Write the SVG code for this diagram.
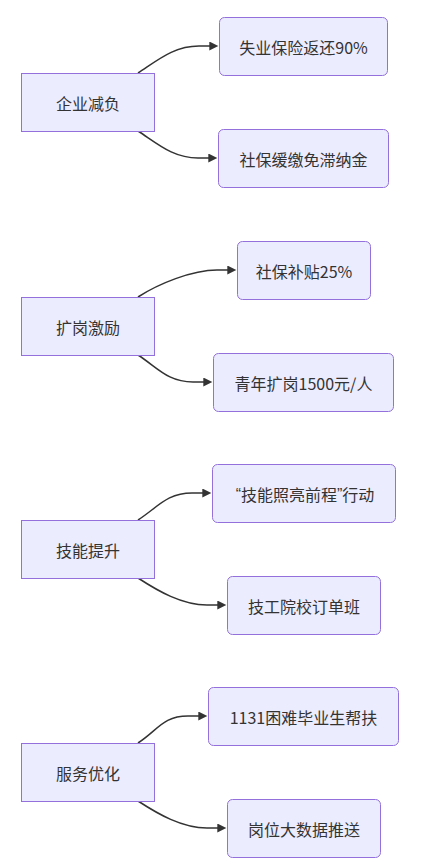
<svg xmlns="http://www.w3.org/2000/svg" width="422" height="864" viewBox="0 0 422 864">
<style>
.node rect{fill:#ECECFF;stroke:#9370DB;stroke-width:1px}
.node text{font-family:"Trebuchet MS","Noto Sans CJK SC",sans-serif;font-size:16px;fill:#333;text-anchor:middle;dominant-baseline:central}
.q{font-family:"Liberation Sans",sans-serif}
.edge{fill:none;stroke:#333;stroke-width:1.5px}
</style>
<defs>
<marker id="arrow" viewBox="0 0 10 10" refX="3" refY="5" markerUnits="userSpaceOnUse" markerWidth="10" markerHeight="9" orient="auto">
<path d="M0,0 L10,5 L0,10 z" fill="#333"/>
</marker>
</defs>
<rect width="422" height="864" fill="#fff"/>
<g id="connectors">
<path class="edge" marker-end="url(#arrow)" d="M138,73 C158,60 174,46 199,46 L212,46"/>
<path class="edge" marker-end="url(#arrow)" d="M138,131 C158,144 173,158 198,158 L211,158"/>
<path class="edge" marker-end="url(#arrow)" d="M138,297 C158,284 192,270 217,270 L230,270"/>
<path class="edge" marker-end="url(#arrow)" d="M138,355 C158,368 168,382 193,382 L206,382"/>
<path class="edge" marker-end="url(#arrow)" d="M138,520 C158,507 167,493 192,493 L205,493"/>
<path class="edge" marker-end="url(#arrow)" d="M138,578 C158,591 182,605 207,605 L220,605"/>
<path class="edge" marker-end="url(#arrow)" d="M138,743 C158,730 163,716 188,716 L201,716"/>
<path class="edge" marker-end="url(#arrow)" d="M138,801 C158,814 182,828 207,828 L220,828"/>
</g>
<g id="n1" class="node"><rect x="21.5" y="73.5" width="133" height="58"/><text x="88" y="102.5">企业减负</text></g>
<g id="n1a" class="node"><rect x="219.5" y="17.5" width="168" height="58" rx="5"/><text x="303.5" y="46.5">失业保险返还90%</text></g>
<g id="n1b" class="node"><rect x="218.5" y="129.5" width="170" height="58" rx="5"/><text x="303.5" y="158.5">社保缓缴免滞纳金</text></g>
<g id="n2" class="node"><rect x="21.5" y="297.5" width="133" height="58"/><text x="88" y="326.5">扩岗激励</text></g>
<g id="n2a" class="node"><rect x="237.5" y="241.5" width="133" height="58" rx="5"/><text x="304" y="270.5">社保补贴25%</text></g>
<g id="n2b" class="node"><rect x="213.5" y="353.5" width="180" height="58" rx="5"/><text x="303.5" y="382.5">青年扩岗1500元/人</text></g>
<g id="n3" class="node"><rect x="21.5" y="520.5" width="133" height="58"/><text x="88" y="549.5">技能提升</text></g>
<g id="n3a" class="node"><rect x="212.5" y="464.5" width="183" height="58" rx="5"/><text x="305" y="493.5"><tspan class="q">“</tspan>技能照亮前程<tspan class="q">”</tspan>行动</text></g>
<g id="n3b" class="node"><rect x="227.5" y="576.5" width="153" height="58" rx="5"/><text x="304" y="605.5">技工院校订单班</text></g>
<g id="n4" class="node"><rect x="21.5" y="743.5" width="133" height="58"/><text x="88" y="772.5">服务优化</text></g>
<g id="n4a" class="node"><rect x="208.5" y="687.5" width="190" height="58" rx="5"/><text x="303.5" y="716.5">1131困难毕业生帮扶</text></g>
<g id="n4b" class="node"><rect x="227.5" y="799.5" width="153" height="58" rx="5"/><text x="304" y="828.5">岗位大数据推送</text></g>
</svg>
